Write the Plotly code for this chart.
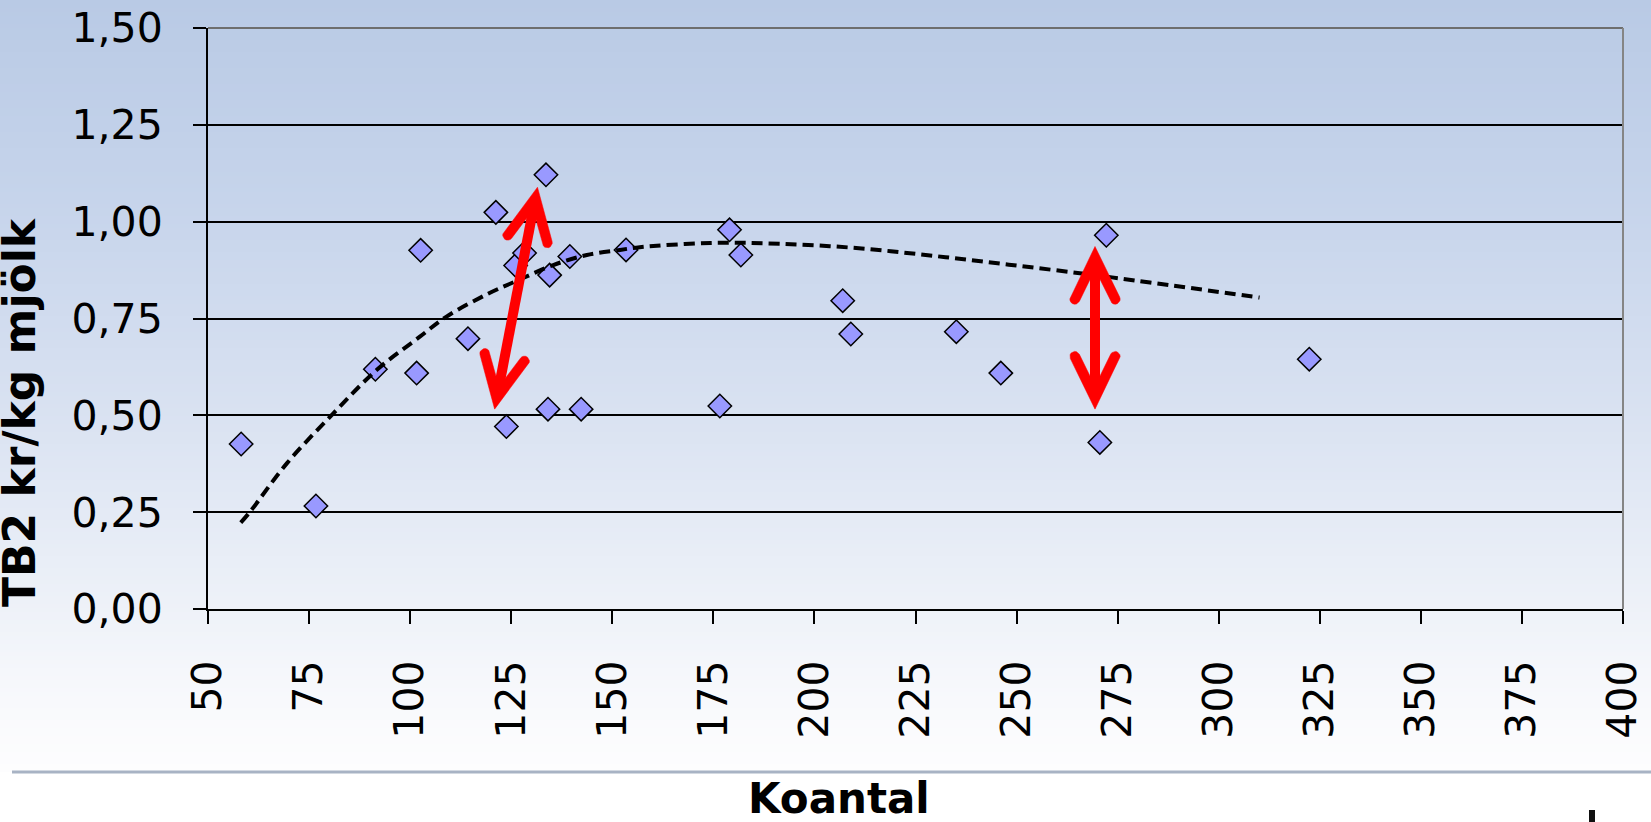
import numpy as np
import plotly.graph_objects as go

# ---------------- data ----------------
koantal = [58.2, 76.7, 91.4, 101.6, 102.6, 114.3, 121.2, 123.8, 126.1, 128.3,
           133.6, 134.5, 134.1, 139.5, 142.3, 153.4, 176.6, 179.0, 181.8, 207.0,
           209.0, 235.1, 246.1, 270.6, 272.2, 322.4]
tb2 = [0.426, 0.266, 0.619, 0.609, 0.926, 0.698, 1.024, 0.471, 0.887, 0.919,
       1.121, 0.862, 0.516, 0.910, 0.516, 0.927, 0.524, 0.979, 0.914, 0.796,
       0.710, 0.716, 0.609, 0.430, 0.965, 0.645]

trend_x = [58.1, 60.4, 69.5, 81.0, 91.7, 102.4, 109.0, 118.9, 127.2, 135.4,
           143.7, 151.9, 156.8, 174.3, 191.3, 210.3, 229.2, 248.1, 267.1, 283.0, 310.1]
trend_y = [0.223, 0.251, 0.376, 0.505, 0.617, 0.703, 0.755, 0.812, 0.851, 0.888,
           0.914, 0.927, 0.934, 0.945, 0.943, 0.932, 0.912, 0.889, 0.865, 0.843, 0.804]

# double-headed red arrows (apex points)
arrow_x0 = [120.9, 269.4]
arrow_y0 = [0.516, 0.516]
arrow_x1 = [131.5, 269.4]
arrow_y1 = [1.089, 0.936]

x_ticks = list(range(50, 401, 25))
y_ticks = [0.0, 0.25, 0.5, 0.75, 1.0, 1.25, 1.5]

x_title = "Koantal"
y_title = "TB2 kr/kg mjölk"

# ---------------- layout geometry ----------------
W, H = 1651, 822
ML, MR, MT, MB = 208, 28, 28, 213
PW = W - ML - MR
PH = H - MT - MB
XR = [50, 400]
YR = [0, 1.5]


def px2paper_x(px):
    return (px - ML) / PW


def px2paper_y(py):
    return (H - MB - py) / PH


fig = go.Figure()

# ---------------- background gradient (style) ----------------
stops = [(0, (185, 202, 229)), (200, (198, 212, 235)), (400, (216, 225, 241)),
         (600, (237, 241, 248)), (700, (248, 249, 252)), (772, (253, 253, 254))]
shapes = []
band = 4
for top in range(0, 772, band):
    mid = top + band / 2
    for i in range(len(stops) - 1):
        if stops[i][0] <= mid <= stops[i + 1][0]:
            t = (mid - stops[i][0]) / (stops[i + 1][0] - stops[i][0])
            c = [round(stops[i][1][k] + t * (stops[i + 1][1][k] - stops[i][1][k])) for k in range(3)]
            break
    shapes.append(dict(type="rect", xref="paper", yref="paper", layer="below",
                       x0=px2paper_x(0), x1=px2paper_x(W),
                       y0=px2paper_y(min(top + band, 772)), y1=px2paper_y(top),
                       fillcolor=f"rgb({c[0]},{c[1]},{c[2]})", line=dict(width=0)))
# separator line under the chart
shapes.append(dict(type="line", xref="paper", yref="paper", layer="below",
                   x0=px2paper_x(12), x1=px2paper_x(W), y0=px2paper_y(772), y1=px2paper_y(772),
                   line=dict(color="#a8b3c4", width=3)))
# small logo fragment bottom-right
shapes.append(dict(type="rect", xref="paper", yref="paper", layer="above",
                   x0=px2paper_x(1589), x1=px2paper_x(1595), y0=px2paper_y(822), y1=px2paper_y(810),
                   fillcolor="#111", line=dict(width=0)))
# plot-area frame (top / right, gray)
shapes.append(dict(type="line", xref="paper", yref="paper", layer="above",
                   x0=0, x1=1, y0=1, y1=1, line=dict(color="#6e6e6e", width=2)))
shapes.append(dict(type="line", xref="paper", yref="paper", layer="above",
                   x0=1, x1=1, y0=0, y1=1, line=dict(color="#858585", width=2)))

# ---------------- traces ----------------
fig.add_trace(go.Scatter(
    x=koantal, y=tb2, mode="markers",
    marker=dict(symbol="diamond", size=18, color="#9999ff",
                line=dict(color="black", width=1.5)),
    showlegend=False, hoverinfo="x+y"))

fig.add_trace(go.Scatter(
    x=trend_x, y=trend_y, mode="lines",
    line=dict(color="black", width=4, dash="11px,6px", shape="spline", smoothing=1.0),
    showlegend=False, hoverinfo="skip"))

# arrows: shaft + chevron heads, geometry computed in pixel space
sx = PW / (XR[1] - XR[0])
sy = PH / (YR[1] - YR[0])


def to_px(x, y):
    return np.array([(x - XR[0]) * sx, (y - YR[0]) * sy])


def to_data(p):
    return p[0] / sx + XR[0], p[1] / sy + YR[0]


h = 5.0
theta = np.radians(26)
L = 46.0
miter = h / np.sin(theta)


def head_poly(T, d):
    m = np.array([-d[1], d[0]])
    V = T - d * miter
    a1 = -d * np.cos(theta) + m * np.sin(theta)
    a2 = -d * np.cos(theta) - m * np.sin(theta)
    m1 = d * np.sin(theta) + m * np.cos(theta)
    m2 = d * np.sin(theta) - m * np.cos(theta)
    E1 = V + a1 * L
    E2 = V + a2 * L
    I = V - d * miter
    pts = [T]
    for ph in np.linspace(0, np.pi, 9):
        pts.append(E1 + h * (m1 * np.cos(ph) + a1 * np.sin(ph)))
    pts.append(I)
    for ph in np.linspace(np.pi, 0, 9):
        pts.append(E2 + h * (m2 * np.cos(ph) + a2 * np.sin(ph)))
    pts.append(T)
    return pts


for x0, y0, x1, y1 in zip(arrow_x0, arrow_y0, arrow_x1, arrow_y1):
    A = to_px(x0, y0)
    B = to_px(x1, y1)
    u = (B - A) / np.linalg.norm(B - A)
    VA = A + u * miter
    VB = B - u * miter
    sxs, sys_ = zip(*[to_data(VA), to_data(VB)])
    fig.add_trace(go.Scatter(x=list(sxs), y=list(sys_), mode="lines",
                             line=dict(color="#ff0000", width=2 * h),
                             showlegend=False, hoverinfo="skip"))
    for T, d in [(B, u), (A, -u)]:
        pts = [to_data(p) for p in head_poly(T, d)]
        px_, py_ = zip(*pts)
        fig.add_trace(go.Scatter(x=list(px_), y=list(py_), mode="lines", fill="toself",
                                 fillcolor="#ff0000", line=dict(color="#ff0000", width=0.5),
                                 showlegend=False, hoverinfo="skip"))

# ---------------- layout ----------------
tickfont = dict(family="DejaVu Sans", size=41, color="black")
fig.update_layout(
    width=W, height=H,
    margin=dict(l=ML, r=MR, t=MT, b=MB, pad=0, autoexpand=False),
    paper_bgcolor="white", plot_bgcolor="rgba(0,0,0,0)",
    separators=", ",
    shapes=shapes,
    xaxis=dict(range=XR, tickvals=x_ticks, ticktext=[str(v) for v in x_ticks],
               tickangle=-90, ticks="outside", ticklen=13, tickwidth=2, tickcolor="black",
               showline=True, linecolor="black", linewidth=2, showgrid=False, zeroline=False,
               tickfont=tickfont, ticklabelstandoff=20, fixedrange=True, automargin=False),
    yaxis=dict(range=YR, tickvals=y_ticks, tickformat=".2f",
               ticks="outside", ticklen=13, tickwidth=2, tickcolor="black",
               showline=True, linecolor="black", linewidth=2,
               showgrid=True, gridcolor="black", gridwidth=2, zeroline=False,
               tickfont=tickfont, ticklabelstandoff=22, fixedrange=True, automargin=False),
    annotations=[
        dict(text=f"<b>{x_title}</b>", xref="paper", yref="paper",
             x=px2paper_x(839), y=px2paper_y(798), xanchor="center", yanchor="middle",
             showarrow=False, font=dict(family="DejaVu Sans", size=42, color="black")),
        dict(text=f"<b>{y_title}</b>", xref="paper", yref="paper", textangle=-90,
             x=px2paper_x(20), y=px2paper_y(412), xanchor="center", yanchor="middle",
             showarrow=False, font=dict(family="DejaVu Sans", size=44, color="black")),
    ],
)

fig.write_html("out.html", config={"displayModeBar": False},
               post_script="document.body.style.margin='0';document.body.style.overflow='hidden';")
